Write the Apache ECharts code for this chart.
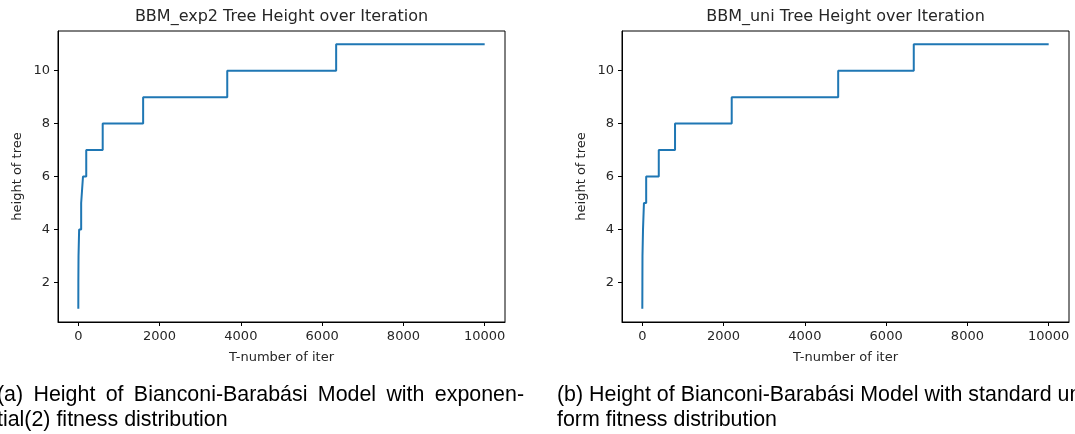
<!DOCTYPE html>
<html><head><meta charset="utf-8">
<script src="https://cdn.jsdelivr.net/npm/echarts@6/dist/echarts.min.js"></script>
<style>html,body{margin:0;padding:0;background:#fff}#c{width:1075px;height:434px}</style>
</head><body><div id="c"></div>
<script>
// ---- data ----
const titles = ['BBM_exp2 Tree Height over Iteration', 'BBM_uni Tree Height over Iteration'];
const xName = 'T-number of iter';
const yName = 'height of tree';
const xTicks = [0, 2000, 4000, 6000, 8000, 10000];
const yTicks = [2, 4, 6, 8, 10];
// iteration at which the tree height first reaches the given value
const expIter   = [0, 1, 5, 20, 70, 115, 195, 600, 1595, 3665, 6345, 10000];
const expHeight = [1, 2, 3, 4, 5, 6, 7, 8, 9, 10, 11, 11];
const uniIter   = [0, 2, 4, 17, 40, 95, 405, 805, 2200, 4820, 6680, 10000];
const uniHeight = [1, 2, 3, 4, 5, 6, 7, 8, 9, 10, 11, 11];
const captionA = ['(a) Height of Bianconi-Barabási Model with exponen-', 'tial(2) fitness distribution'];
const captionB = ['(b) Height of Bianconi-Barabási Model with standard uni-', 'form fitness distribution'];

// ---- chart ----
const TXT = '#262626';
const FONT = 'DejaVu Sans';
const CAP_FONT = 'Liberation Sans';
const CAP_SIZE = 21.4;
const grids = [
  {left: 58, top: 31, width: 447, height: 291},
  {left: 622, top: 31, width: 447, height: 291}
];
function pairs(xs, ys) { return xs.map((x, i) => [x, ys[i]]); }
const plain = v => String(v);

function xAxis(gi) {
  return {
    type: 'value', gridIndex: gi, min: -500, max: 10500,
    name: xName, nameLocation: 'middle', nameGap: 29,
    nameTextStyle: {color: TXT, fontSize: 13, fontFamily: FONT},
    axisLine: {show: true, onZero: false, lineStyle: {color: '#000', width: 1}},
    axisTick: {show: true, customValues: xTicks, length: 4, lineStyle: {color: '#000'}},
    axisLabel: {customValues: xTicks, formatter: plain, color: TXT, fontSize: 13, fontFamily: FONT, margin: 8},
    splitLine: {show: false}
  };
}
function yAxis(gi) {
  return {
    type: 'value', gridIndex: gi, min: 0.5, max: 11.5,
    name: yName, nameLocation: 'middle', nameGap: 34, nameRotate: 90,
    nameTextStyle: {color: TXT, fontSize: 13, fontFamily: FONT},
    axisLine: {show: true, onZero: false, lineStyle: {color: '#000', width: 1}},
    axisTick: {show: true, customValues: yTicks, length: 4, lineStyle: {color: '#000'}},
    axisLabel: {customValues: yTicks, formatter: plain, color: TXT, fontSize: 13, fontFamily: FONT, margin: 8},
    splitLine: {show: false}
  };
}

// justified caption line
const mc = document.createElement('canvas').getContext('2d');
mc.font = CAP_SIZE + 'px "' + CAP_FONT + '"';
function justified(line, x0, x1, y) {
  const words = line.split(' ');
  const widths = words.map(w => mc.measureText(w).width);
  const total = widths.reduce((a, b) => a + b, 0);
  const gap = (x1 - x0 - total) / (words.length - 1);
  let x = x0;
  return words.map((w, i) => {
    const el = capText(w, x, y);
    x += widths[i] + gap;
    return el;
  });
}
function capText(t, x, y) {
  return {type: 'text', x: x, y: y, silent: true,
    style: {text: t, fill: '#000', fontSize: CAP_SIZE, fontFamily: CAP_FONT, verticalAlign: 'middle'}};
}
function titleText(t, cx) {
  return {type: 'text', x: cx, y: 17, silent: true,
    style: {text: t, fill: TXT, fontSize: 16, fontFamily: FONT, align: 'center', verticalAlign: 'middle'}};
}

const graphic = [
  titleText(titles[0], grids[0].left + grids[0].width / 2),
  titleText(titles[1], grids[1].left + grids[1].width / 2),
  ...justified(captionA[0], -3, 524, 395),
  capText(captionA[1], -3, 420),
  capText(captionB[0], 557, 395),
  capText(captionB[1], 557, 420)
];

const chart = echarts.init(document.getElementById('c'), null, {renderer: 'canvas'});
chart.setOption({
  animation: false,
  backgroundColor: '#fff',
  grid: grids.map(g => Object.assign({show: true, borderColor: '#000', borderWidth: 1, backgroundColor: 'transparent'}, g)),
  xAxis: [xAxis(0), xAxis(1)],
  yAxis: [yAxis(0), yAxis(1)],
  series: [
    {type: 'line', xAxisIndex: 0, yAxisIndex: 0, step: 'end', showSymbol: false,
     data: pairs(expIter, expHeight), lineStyle: {color: '#1f77b4', width: 2}},
    {type: 'line', xAxisIndex: 1, yAxisIndex: 1, step: 'end', showSymbol: false,
     data: pairs(uniIter, uniHeight), lineStyle: {color: '#1f77b4', width: 2}}
  ],
  graphic: graphic
});
</script>
</body></html>
